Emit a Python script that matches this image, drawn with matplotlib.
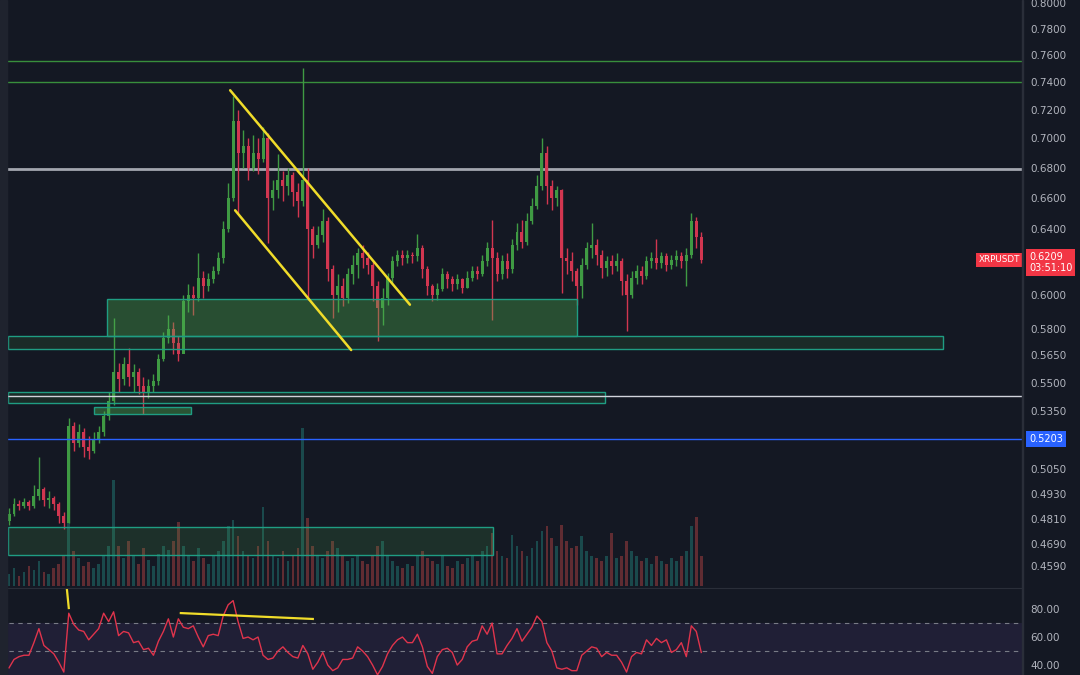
import matplotlib

matplotlib.use("Agg")
import matplotlib.pyplot as plt  # noqa: E402
from matplotlib.patches import Rectangle  # noqa: E402
from matplotlib.ticker import NullFormatter, NullLocator  # noqa: E402

# ---- data (XRPUSDT, log price scale) ----
OPEN_FIRST = 0.480
CLOSES = [
    0.483, 0.488, 0.487, 0.489, 0.487, 0.492, 0.495, 0.490, 0.491, 0.488,
    0.482, 0.479, 0.527, 0.518, 0.524, 0.516, 0.514, 0.520, 0.524, 0.532,
    0.540, 0.556, 0.552, 0.560, 0.553, 0.556, 0.548, 0.545, 0.548, 0.551,
    0.563, 0.575, 0.580, 0.572, 0.566, 0.596, 0.600, 0.598, 0.610, 0.605,
    0.609, 0.614, 0.622, 0.640, 0.660, 0.712, 0.690, 0.695, 0.680, 0.690,
    0.686, 0.700, 0.660, 0.665, 0.672, 0.668, 0.675, 0.664, 0.658, 0.672,
    0.640, 0.630, 0.636, 0.645, 0.615, 0.600, 0.605, 0.598, 0.612, 0.618,
    0.625, 0.622, 0.618, 0.605, 0.592, 0.598, 0.610, 0.620, 0.624, 0.622,
    0.624, 0.623, 0.628, 0.615, 0.605, 0.600, 0.603, 0.612, 0.609, 0.606,
    0.609, 0.604, 0.610, 0.614, 0.612, 0.620, 0.628, 0.622, 0.612, 0.620,
    0.615, 0.630, 0.638, 0.632, 0.645, 0.655, 0.668, 0.690, 0.668, 0.660,
    0.665, 0.622, 0.620, 0.614, 0.605, 0.618, 0.628, 0.630, 0.624, 0.616,
    0.620, 0.617, 0.620, 0.608, 0.600, 0.610, 0.614, 0.611, 0.620, 0.622,
    0.619, 0.623, 0.618, 0.621, 0.623, 0.620, 0.624, 0.645, 0.635, 0.6209,
]
HIGHS = [
    0.486, 0.491, 0.490, 0.491, 0.490, 0.497, 0.511, 0.496, 0.494, 0.492,
    0.489, 0.484, 0.531, 0.529, 0.528, 0.526, 0.522, 0.524, 0.527, 0.535,
    0.545, 0.586, 0.561, 0.564, 0.569, 0.560, 0.558, 0.553, 0.552, 0.555,
    0.566, 0.578, 0.588, 0.584, 0.576, 0.600, 0.606, 0.605, 0.625, 0.614,
    0.613, 0.617, 0.626, 0.645, 0.670, 0.730, 0.720, 0.706, 0.700, 0.702,
    0.700, 0.708, 0.704, 0.672, 0.689, 0.678, 0.680, 0.677, 0.670, 0.750,
    0.680, 0.642, 0.642, 0.653, 0.648, 0.618, 0.612, 0.610, 0.616, 0.624,
    0.628, 0.630, 0.626, 0.620, 0.608, 0.604, 0.613, 0.623, 0.627, 0.627,
    0.627, 0.626, 0.637, 0.630, 0.617, 0.606, 0.607, 0.616, 0.614, 0.611,
    0.612, 0.610, 0.614, 0.617, 0.617, 0.624, 0.632, 0.646, 0.626, 0.624,
    0.625, 0.634, 0.644, 0.646, 0.650, 0.660, 0.675, 0.700, 0.695, 0.672,
    0.668, 0.666, 0.628, 0.626, 0.616, 0.622, 0.632, 0.644, 0.634, 0.627,
    0.623, 0.624, 0.625, 0.622, 0.612, 0.614, 0.618, 0.617, 0.623, 0.626,
    0.634, 0.626, 0.625, 0.624, 0.627, 0.626, 0.628, 0.650, 0.648, 0.638,
]
LOWS = [
    0.478, 0.482, 0.485, 0.486, 0.485, 0.486, 0.490, 0.487, 0.486, 0.485,
    0.479, 0.476, 0.479, 0.514, 0.516, 0.511, 0.510, 0.513, 0.518, 0.522,
    0.530, 0.538, 0.545, 0.549, 0.548, 0.545, 0.544, 0.533, 0.542, 0.545,
    0.549, 0.562, 0.572, 0.566, 0.562, 0.580, 0.590, 0.588, 0.596, 0.598,
    0.602, 0.607, 0.612, 0.619, 0.638, 0.658, 0.650, 0.680, 0.672, 0.678,
    0.676, 0.684, 0.631, 0.652, 0.660, 0.658, 0.662, 0.655, 0.648, 0.655,
    0.597, 0.622, 0.628, 0.632, 0.608, 0.586, 0.590, 0.593, 0.595, 0.606,
    0.610, 0.616, 0.612, 0.596, 0.573, 0.582, 0.594, 0.606, 0.617, 0.618,
    0.619, 0.619, 0.620, 0.610, 0.600, 0.596, 0.597, 0.602, 0.604, 0.602,
    0.603, 0.601, 0.604, 0.608, 0.609, 0.611, 0.617, 0.585, 0.608, 0.609,
    0.610, 0.613, 0.627, 0.628, 0.630, 0.643, 0.653, 0.665, 0.656, 0.652,
    0.655, 0.601, 0.612, 0.608, 0.594, 0.598, 0.615, 0.622, 0.618, 0.610,
    0.611, 0.612, 0.614, 0.600, 0.579, 0.598, 0.606, 0.606, 0.609, 0.616,
    0.615, 0.616, 0.614, 0.615, 0.617, 0.616, 0.605, 0.622, 0.628, 0.619,
]
VOLUMES = [
    12, 18, 10, 14, 20, 16, 25, 14, 12, 18,
    22, 30, 76, 35, 28, 20, 24, 18, 22, 30,
    40, 106, 40, 28, 45, 30, 22, 38, 26, 20,
    32, 40, 36, 45, 64, 40, 30, 25, 38, 28,
    22, 30, 35, 45, 60, 66, 50, 35, 30, 28,
    40, 79, 45, 30, 28, 35, 25, 30, 38, 158,
    68, 40, 30, 28, 35, 45, 38, 30, 25, 28,
    30, 25, 22, 30, 40, 45, 30, 25, 20, 18,
    22, 20, 30, 35, 28, 25, 22, 30, 20, 18,
    25, 22, 28, 30, 25, 35, 40, 53, 35, 30,
    28, 51, 40, 35, 30, 38, 45, 55, 60, 48,
    40, 61, 45, 38, 40, 50, 35, 30, 28, 25,
    30, 53, 28, 30, 45, 35, 30, 25, 28, 22,
    30, 25, 22, 28, 25, 30, 35, 60, 69, 30,
]
RSI = [
    38, 44, 46, 47, 47, 56, 66, 54, 51, 48,
    42, 35, 77, 69, 65, 64, 58, 62, 66, 77,
    71, 78, 61, 64, 63, 56, 57, 51, 52, 47,
    57, 64, 73, 60, 73, 67, 66, 68, 60, 53,
    61, 62, 61, 75, 83, 86, 71, 59, 60, 58,
    60, 47, 44, 45, 50, 53, 49, 46, 45, 54,
    48, 37, 42, 49, 40, 36, 38, 44, 44, 45,
    53, 50, 46, 40, 33, 39, 48, 54, 58, 60,
    56, 56, 62, 53, 39, 34, 46, 51, 52, 49,
    40, 44, 53, 57, 58, 68, 62, 70, 48, 48,
    54, 59, 66, 57, 62, 67, 75, 71, 56, 50,
    38, 37, 38, 36, 36, 47, 50, 53, 52, 46,
    49, 47, 47, 42, 35, 46, 49, 48, 58, 54,
    59, 56, 58, 49, 51, 56, 46, 68, 64, 49,
]

PRICE_TICKS = [0.8000, 0.7800, 0.7600, 0.7400, 0.7200, 0.7000, 0.6800, 0.6600,
               0.6400, 0.6000, 0.5800, 0.5650, 0.5500, 0.5350, 0.5050, 0.4930,
               0.4810, 0.4690, 0.4590]
RSI_TICKS = [80, 60, 40]

GREEN_LEVELS = [0.7555, 0.7400]
GRAY_LEVEL = 0.679
WHITE_LEVEL = 0.5428
BLUE_LEVEL = 0.5203
TIMER = "03:51:10"

# zones: (start bar, end bar, low price, high price, fill alpha)
ZONES = [
    (19.7, 114.1, 0.5759, 0.5973, 0.36),
    (-0.2, 187.6, 0.5685, 0.5759, 0.13),
    (-0.2, 119.7, 0.5390, 0.5449, 0.13),
    (17.1, 36.5, 0.5332, 0.5369, 0.40),
    (-0.2, 97.2, 0.4639, 0.4771, 0.16),
]
# drawn trend lines: ((bar, price), (bar, price))
CHANNEL = [((44.4, 0.734), (80.5, 0.594)), ((45.4, 0.652), (68.7, 0.568))]
RSI_DRAWINGS = [((11.6, 95.0), (12.0, 80.7)), ((34.5, 77.1), (61.0, 72.9))]

BG = "#141823"
UP = "#3f9a43"
DOWN = "#d23650"
VOL_UP = "#26a69a"
VOL_DOWN = "#ef5350"
TEAL = "#1f9d83"
YELLOW = "#f0dc2a"
TXT = "#b2b5be"

W, H = 1080, 675


def box(x0, y0, x1, y1):
    return [x0 / W, 1 - y1 / H, (x1 - x0) / W, (y1 - y0) / H]


fig = plt.figure(figsize=(10.8, 6.75), dpi=100, facecolor=BG)
ax_v = fig.add_axes(box(0, 0, 1022, 586), facecolor=BG)
ax = fig.add_axes(box(0, 0, 1022, 586), sharex=ax_v)
ax.patch.set_visible(False)
ax_r = fig.add_axes(box(0, 588, 1022, 675), sharex=ax_v, facecolor=BG)

n = len(CLOSES)
idx = list(range(n))
opens = [OPEN_FIRST] + CLOSES[:-1]
rising = [c >= o for o, c in zip(opens, CLOSES)]
colors = [UP if r else DOWN for r in rising]

# volume
ax_v.bar(idx, VOLUMES, width=0.55, color=[VOL_UP if r else VOL_DOWN for r in rising],
         alpha=0.35, linewidth=0)
ax_v.set_ylim(0, 586)
ax_v.set_xlim(-1.81, 203.4)

# candles
ax.set_yscale("log")
ax.vlines(idx, LOWS, HIGHS, colors=colors, linewidth=1, zorder=3)
ax.bar(idx, [abs(c - o) for o, c in zip(opens, CLOSES)], bottom=[min(o, c) for o, c in zip(opens, CLOSES)],
       width=0.6, color=colors, linewidth=0, zorder=3)

for x0, x1, p0, p1, a in ZONES:
    ax.add_patch(Rectangle((x0, p0), x1 - x0, p1 - p0, facecolor=(0.30, 0.69, 0.31, a),
                           edgecolor=TEAL, linewidth=1, zorder=4))

for lv in GREEN_LEVELS:
    ax.axhline(lv, color="#388e3c", lw=1, zorder=2)
ax.axhline(GRAY_LEVEL, color="#a3a6af", lw=2, zorder=2)
ax.axhline(WHITE_LEVEL, color="#d1d4dc", lw=1, zorder=5)
ax.axhline(BLUE_LEVEL, color="#2962ff", lw=1, zorder=5)

for (xa, pa), (xb, pb) in CHANNEL:
    ax.plot([xa, xb], [pa, pb], color=YELLOW, lw=1.8, solid_capstyle="round", zorder=6)

ax.set_ylim(0.4500, 0.8024)
ax.yaxis.tick_right()
ax.set_yticks(PRICE_TICKS, labels=[f"{t:.4f}" for t in PRICE_TICKS])
ax.yaxis.set_minor_locator(NullLocator())
ax.yaxis.set_minor_formatter(NullFormatter())
ax.tick_params(axis="y", length=0, pad=6, labelsize=7.5, labelcolor=TXT)

last = CLOSES[-1]
ax.text(0.998, last, "XRPUSDT", transform=ax.get_yaxis_transform(), ha="right", va="center",
        fontsize=6.3, color="white", zorder=7,
        bbox=dict(boxstyle="square,pad=0.3", fc="#f23645", ec="none"))
ax.annotate(f"{last:.4f}\n{TIMER}", xy=(1.0, last), xycoords=ax.get_yaxis_transform(),
            xytext=(5, 5.5), textcoords="offset points", ha="left", va="top", fontsize=7,
            color="white", linespacing=1.15, annotation_clip=False,
            bbox=dict(boxstyle="square,pad=0.3", fc="#f23645", ec="none"))
ax.annotate(f"{BLUE_LEVEL:.4f}", xy=(1.0, BLUE_LEVEL), xycoords=ax.get_yaxis_transform(),
            xytext=(5, 0), textcoords="offset points", ha="left", va="center", fontsize=7,
            color="white", annotation_clip=False,
            bbox=dict(boxstyle="square,pad=0.3", fc="#2962ff", ec="none"))

# RSI pane
ax_r.axhspan(30, 70, color="#7e57c2", alpha=0.12, lw=0)
for lv in (70, 50):
    ax_r.axhline(lv, color="#787b86", lw=0.8, ls=(0, (4, 4)))
ax_r.plot(idx, RSI, color="#e0344c", lw=1)
for (xa, ra), (xb, rb) in RSI_DRAWINGS:
    ax_r.plot([xa, xb], [ra, rb], color=YELLOW, lw=1.6)
ax_r.set_ylim(32.9, 95)
ax_r.yaxis.tick_right()
ax_r.set_yticks(RSI_TICKS, labels=[f"{t:.2f}" for t in RSI_TICKS])
ax_r.tick_params(axis="y", length=0, pad=6, labelsize=7.5, labelcolor=TXT)

for a in (ax, ax_v, ax_r):
    a.tick_params(axis="x", bottom=False, labelbottom=False)
    for s in a.spines.values():
        s.set_visible(False)
ax_v.tick_params(axis="y", left=False, labelleft=False)
ax_r.spines["top"].set_visible(True)
ax_r.spines["top"].set_color("#2a2e39")

fig.add_artist(Rectangle((0, 0), 7 / W, 1, transform=fig.transFigure, color="#1f232e", zorder=10))
fig.add_artist(Rectangle((1022 / W, 0), 1 / W, 1, transform=fig.transFigure, color="#2a2e39", zorder=10))

fig.savefig("out.png", dpi=100, facecolor=BG)
